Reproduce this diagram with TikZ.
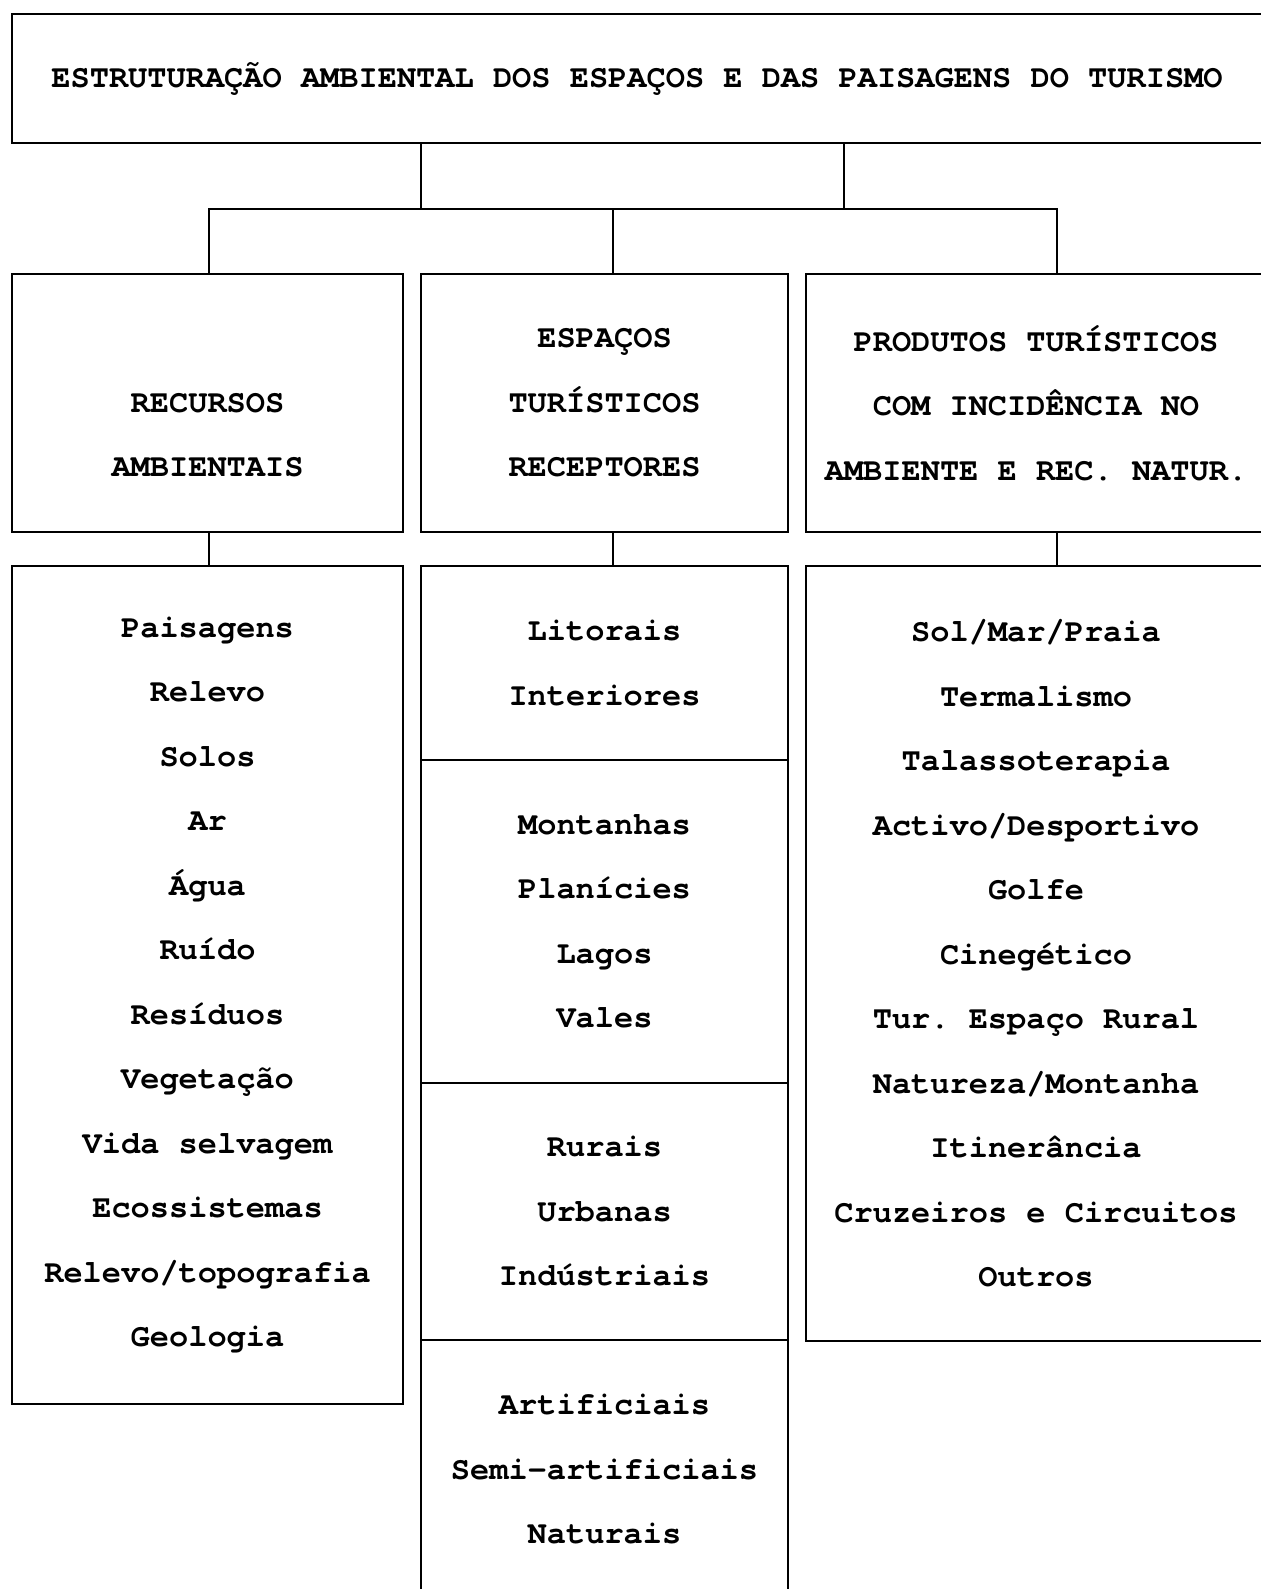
\documentclass[tikz,border=0pt]{standalone}
\usepackage{fontspec}
\setmonofont[Ligatures=NoCommon]{TeX Gyre Cursor}
\usetikzlibrary{positioning}
\tikzset{
    base/.style={draw, line width=2pt, align=center, inner sep=0pt, outer sep=0pt,
        font=\ttfamily\bfseries\fontsize{32}{64.5}\selectfont},
    head/.style={base, rectangle, minimum width=1250, minimum height=129},
    category/.style={base, rectangle, minimum height=258},
    listbox/.style={base, rectangle},
    link/.style={line width=2pt}
}

\begin{document}
\begin{tikzpicture}[x=1pt, y=-1pt]
    \useasboundingbox (0,0) rectangle (1260,1589);

    % Title
    \node (title) [head] at (637,78.5) {ESTRUTURAÇÃO AMBIENTAL DOS ESPAÇOS E DAS PAISAGENS DO TURISMO};

    % Categories
    \node (recursos) [category, minimum width=391] at (207.5,403) {\vphantom{X}\\RECURSOS\\AMBIENTAIS};
    \node (espacos) [category, minimum width=367] at (604.5,403) {ESPAÇOS\\TURÍSTICOS\\RECEPTORES};
    \node (produtos) [category, minimum width=460] at (1036,403) {PRODUTOS TURÍSTICOS\\COM INCIDÊNCIA NO\\AMBIENTE E REC. NATUR.};

    % Lists
    \node (recursos_list) [listbox, minimum width=391, minimum height=838, below=34pt of recursos]
        {Paisagens\\Relevo\\Solos\\Ar\\Água\\Ruído\\Resíduos\\Vegetação\\Vida selvagem\\Ecossistemas\\Relevo/topografia\\Geologia};

    \node (espacos_a) [listbox, minimum width=367, minimum height=194, below=34pt of espacos] {Litorais\\Interiores};
    \node (espacos_b) [listbox, minimum width=367, minimum height=323, below=0pt of espacos_a] {Montanhas\\Planícies\\Lagos\\Vales};
    \node (espacos_c) [listbox, minimum width=367, minimum height=257, below=0pt of espacos_b] {Rurais\\Urbanas\\Indústriais};
    \node (espacos_d) [listbox, minimum width=367, minimum height=258, below=0pt of espacos_c] {Artificiais\\Semi-artificiais\\Naturais};

    \node (produtos_list) [listbox, minimum width=460, minimum height=775, below=34pt of produtos]
        {Sol/Mar/Praia\\Termalismo\\Talassoterapia\\Activo/Desportivo\\Golfe\\Cinegético\\Tur. Espaço Rural\\Natureza/Montanha\\Itinerância\\Cruzeiros e Circuitos\\Outros};

    % Junctions
    \coordinate (split_a) at (421,209);
    \coordinate (split_b) at (844,209);
    \coordinate (drop_r) at (209,209);
    \coordinate (drop_e) at (613,209);
    \coordinate (drop_p) at (1057,209);

    % Flows
    \draw [link] (title.south -| split_a) -- (split_a);
    \draw [link] (title.south -| split_b) -- (split_b);
    \draw [link] (recursos.north -| drop_r) -- (drop_r) -- (drop_p) -- (produtos.north -| drop_p);
    \draw [link] (drop_e) -- (espacos.north -| drop_e);

    \draw [link] (recursos.south -| drop_r) -- (recursos_list.north -| drop_r);
    \draw [link] (espacos.south -| drop_e) -- (espacos_a.north -| drop_e);
    \draw [link] (produtos.south -| drop_p) -- (produtos_list.north -| drop_p);
\end{tikzpicture}
\end{document}
